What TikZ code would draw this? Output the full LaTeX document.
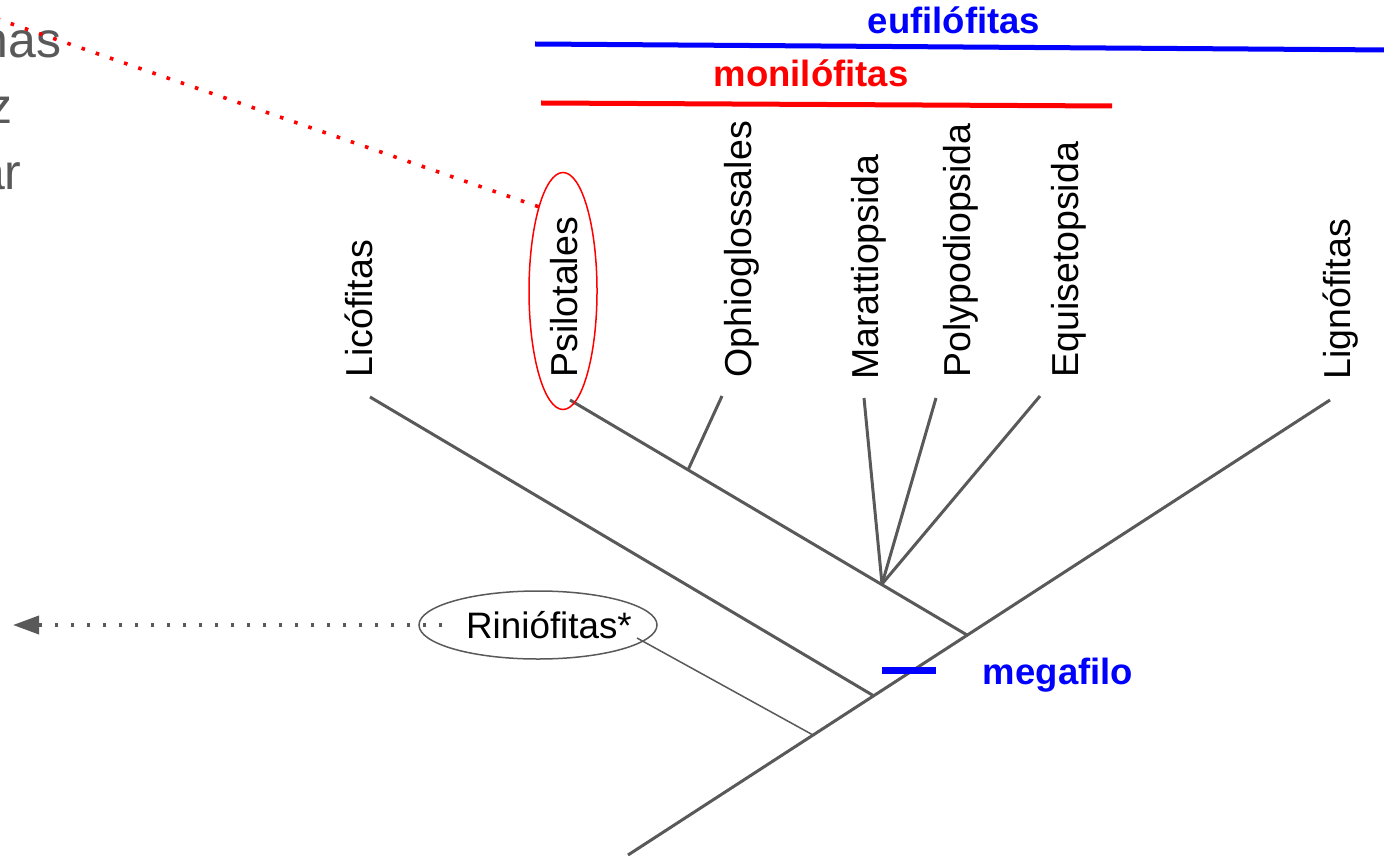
\documentclass[tikz,border=0pt]{standalone}
\usepackage{fontspec}
\setmainfont{Liberation Sans}
\usepackage{tikz}
\usetikzlibrary{shapes.geometric,arrows.meta}
\usetikzlibrary{positioning}
\definecolor{branchgray}{HTML}{595959}
\definecolor{cladeblue}{HTML}{0000FF}
\definecolor{cladered}{HTML}{FF0000}
\tikzstyle{branch} = [draw=branchgray, line width=1.5pt]
\tikzstyle{thinbranch} = [draw=branchgray, line width=0.75pt]
\tikzstyle{taxon} = [rotate=90, anchor=base west, inner sep=0pt,
    font=\fontsize{18.75}{22}\selectfont]
\tikzstyle{cladebar} = [line width=2.5pt]
\tikzstyle{cladename} = [anchor=base, inner sep=0pt,
    font=\fontsize{18.25}{22}\selectfont\bfseries]
\tikzstyle{redring} = [ellipse, draw=cladered, line width=0.75pt,
    minimum width=34pt, minimum height=118.5pt, inner sep=0pt]
\tikzstyle{grayring} = [ellipse, draw=branchgray, line width=0.75pt,
    minimum width=119pt, minimum height=34pt, inner ysep=0pt, inner xsep=-5pt,
    font=\fontsize{18.4}{22}\selectfont]
\tikzstyle{reddots} = [draw=cladered, line width=1.8pt, dash pattern=on 1.8pt off 5.7pt]
\tikzstyle{graydots} = [draw=branchgray, line width=1.8pt, dash pattern=on 1.8pt off 6.2pt,
    -{Triangle[length=13pt,width=9pt]}]
\tikzstyle{sidetext} = [anchor=base east, inner sep=0pt, text=branchgray,
    font=\fontsize{25}{30}\selectfont]

\begin{document}
\begin{tikzpicture}[x=0.5pt, y=-0.5pt]
\useasboundingbox (0,0) rectangle (1384,855);

% cut-off text on the left
\node (side1) [sidetext] at (62,58) {has};
\node (side2) [sidetext] at (13,124) {z};
\node (side3) [sidetext] at (22,190) {ar};

% trunk
\coordinate (root) at (628,855);
\coordinate (riniojoin) at (813,735);
\coordinate (licojoin) at (874,696);
\coordinate (euphylljoin) at (967,635);
\coordinate (lignotip) at (1330,400);
\coordinate (ophiojoin) at (688,470);
\coordinate (fernjoin) at (882,584);

\coordinate (licotip) at (370,397);
\coordinate (psilotip) at (570,400);
\coordinate (ophiotip) at (722,396);
\coordinate (marattip) at (864,398);
\coordinate (polytip) at (936,398);
\coordinate (equistip) at (1040,396);

\draw [branch] (root) -- (lignotip);
\draw [branch] (licotip) -- (licojoin);
\draw [branch] (psilotip) -- (euphylljoin);
\draw [branch] (ophiotip) -- (ophiojoin);
\draw [branch] (marattip) -- (fernjoin);
\draw [branch] (polytip) -- (fernjoin);
\draw [branch] (equistip) -- (fernjoin);

% taxa
\node (lico) [taxon] at (372,378) {Licófitas};
\node (psilo) [taxon] at (577,378) {Psilotales};
\node (ophio) [taxon] at (751,378) {Ophioglossales};
\node (maratt) [taxon] at (878,380) {Marattiopsida};
\node (polypod) [taxon] at (970,378) {Polypodiopsida};
\node (equiset) [taxon] at (1078,378) {Equisetopsida};
\node (ligno) [taxon] at (1350,380) {Lignófitas};

% psilotales highlight
\node (psiring) [redring] at (563,291) {};
\coordinate (offleft) at (-40,6);
\draw [reddots] (psiring.north west) -- (offleft);

% riniofitas
\node (rinioring) [grayring] at (538,625) {\hspace*{11pt}Riniófitas*};
\coordinate (riniostem) at (637,638);
\coordinate (arrowend) at (13,625);
\draw [thinbranch] (riniostem) -- (riniojoin);
\draw [graydots] ([xshift=12pt]rinioring.west) -- (arrowend);

% clades
\coordinate (eufstart) at (535,44);
\coordinate (eufend) at (1390,50);
\coordinate (monstart) at (541,103);
\coordinate (monend) at (1112,106);
\draw [cladebar, cladeblue] (eufstart) -- (eufend);
\draw [cladebar, cladered] (monstart) -- (monend);
\node (euf) [cladename, text=cladeblue] at (954,34) {eufilófitas};
\node (moni) [cladename, text=cladered] at (811,87) {monilófitas};

% megaphyll
\coordinate (megastart) at (882,670);
\coordinate (megaend) at (936,670);
\draw [line width=3.5pt, cladeblue] (megastart) -- (megaend);
\node (mega) [cladename, text=cladeblue] at (1058,684) {megafilo};
\end{tikzpicture}
\end{document}
